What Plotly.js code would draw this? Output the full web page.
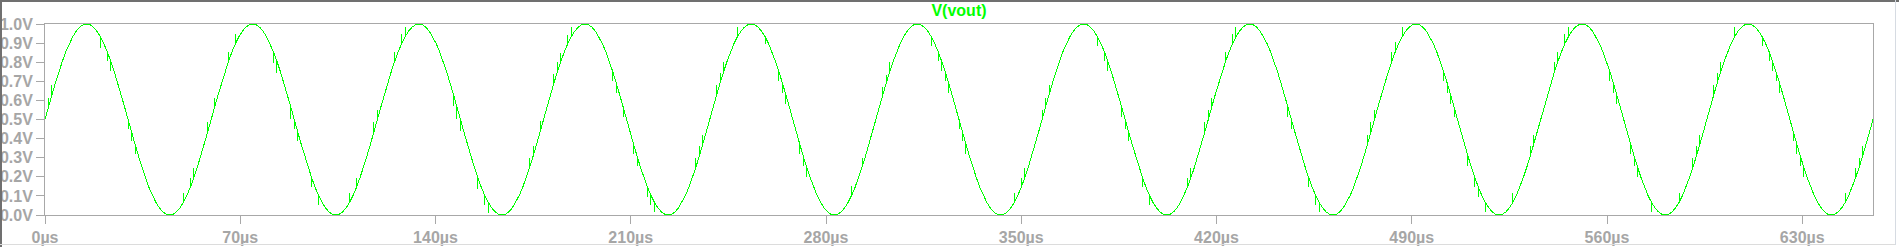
<!DOCTYPE html>
<html>
<head>
<meta charset="utf-8">
<script src="https://cdn.plot.ly/plotly-3.0.1.min.js"></script>
<style>
  html, body { margin:0; padding:0; background:#ffffff; }
  #wrap { position:relative; width:1899px; height:247px; overflow:hidden; }
  #chart { position:absolute; left:0; top:0; width:1899px; height:247px; }
  .fr { position:absolute; pointer-events:none; }
  #chart .js-line { shape-rendering: crispEdges; }
</style>
</head>
<body>
<div id="wrap">
  <div id="chart"></div>
  <div class="fr" style="left:0;top:0;width:1899px;height:2px;background:#707070;"></div>
  <div class="fr" style="left:0;top:0;width:2px;height:247px;background:#707070;"></div>
  <div class="fr" style="left:0;top:244px;width:1896px;height:1px;background:#dcdcdc;"></div>
  <div class="fr" style="left:1895px;top:0;width:1px;height:245px;background:#d6dbe2;"></div>
</div>
<script>
// ---- data ----
const traceName = 'V(vout)';
const timeSpanUs = 655.36;      // x range of the plot (µs)
const cycleCount = 11;          // full sine periods in the window
// one period of the output level (V), 48 equal steps
const cycleLevels = [0.500,0.565,0.629,0.691,0.750,0.804,0.854,0.897,0.933,0.962,0.983,0.996,
                     1.000,0.996,0.983,0.962,0.933,0.897,0.854,0.804,0.750,0.691,0.629,0.565,
                     0.500,0.435,0.371,0.309,0.250,0.196,0.146,0.103,0.067,0.038,0.017,0.004,
                     0.000,0.004,0.017,0.038,0.067,0.103,0.146,0.196,0.250,0.309,0.371,0.435];
// glitch spikes: time (µs) and spike height (V, signed)
const glitchTimeUs = [
  1.2,2.8, 19.7,22.1,23.6,29.9,31.1,32.5, 49.4,51.7,53.2,58.5,61.2,66.1,67.9,
  81.6,82.8,88.4,89.4,90.8,96.1,97.6, 109.8,112.3,118.1,118.9,125.5,127.5,129.4,
  146.7,147.8,149.0,155.5,157.3,159.3, 174.1,175.3,177.7,182.6,184.0,185.2,186.9,189.0,
  204.0,205.0,207.6,211.3,212.5,215.5,216.6,218.9, 233.6,235.2,236.0,240.8,242.3,243.8,248.5,
  258.2,263.5,264.7,266.0,270.9,272.1,273.3, 289.8,293.1,300.5,301.9,303.3,
  317.7,319.9,321.3,323.0,324.2,328.0,329.2,330.4, 347.5,349.8,351.3,357.7,358.9,360.3,
  377.4,379.4,380.8,386.2,387.6,388.9,394.0,395.5, 409.3,410.8,416.2,417.3,418.6,423.6,425.4,427.2,
  445.9,446.8,453.1,455.0,457.3, 474.4,475.6,476.8,483.0,484.6,486.9,
  501.6,502.7,504.3,505.5,510.5,512.9,514.4,516.8, 526.0,532.6,534.2,541.0,542.9,544.3,546.5,
  561.3,562.6,564.0,568.5,569.9,571.2,576.2, 585.9,591.3,592.5,593.6,598.4,599.5,601.1,606.1,
  615.8,617.8,619.4,621.0,622.3,626.8,628.3,629.4,631.0, 645.5,648.9,650.7,651.9];
const glitchDeltaV = [
  0.05,0.05, -0.06,-0.05,-0.05,-0.05,-0.05,-0.05, 0.05,0.05,0.05,0.05,0.05,0.05,0.05,
  -0.06,-0.06,-0.06,-0.05,-0.05,-0.05,-0.05, 0.05,0.05,0.05,0.05,0.05,0.05,0.05,
  -0.06,-0.06,-0.06,-0.06,-0.05,-0.055, 0.05,0.05,0.055,0.045,0.05,0.045,0.045,0.05,
  -0.05,-0.05,-0.05,-0.05,-0.05,-0.05,-0.05,-0.05, 0.05,0.05,0.05,0.05,0.05,0.05,0.05,
  -0.04,-0.05,-0.05,-0.05,-0.05,-0.05,-0.05, 0.05,0.05,0.04,0.04,0.05,
  -0.05,-0.05,-0.05,-0.05,-0.05,-0.05,-0.05,-0.05, 0.05,0.05,0.05,0.05,0.05,0.05,
  -0.05,-0.05,-0.05,-0.05,-0.05,-0.05,-0.05,-0.05, 0.05,0.05,0.05,0.05,0.05,0.05,0.05,0.05,
  -0.05,-0.05,-0.05,-0.05,-0.05, 0.05,0.05,0.05,0.05,0.05,0.05,
  -0.05,-0.05,-0.05,-0.05,-0.05,-0.05,-0.05,-0.05, 0.05,0.05,0.05,0.05,0.05,0.05,0.05,
  -0.05,-0.05,-0.05,-0.05,-0.05,-0.05,-0.05, 0.05,0.05,0.05,0.05,0.05,0.05,0.05,0.05,
  -0.05,-0.05,-0.05,-0.05,-0.05,-0.05,-0.05,-0.05,-0.05, 0.05,0.05,0.05,0.05];
const xTickValues = [0,70,140,210,280,350,420,490,560,630];
const xTickLabels = ['0µs','70µs','140µs','210µs','280µs','350µs','420µs','490µs','560µs','630µs'];
const yTickValues = [0,0.1,0.2,0.3,0.4,0.5,0.6,0.7,0.8,0.9,1.0];
const yTickLabels = ['0.0V','0.1V','0.2V','0.3V','0.4V','0.5V','0.6V','0.7V','0.8V','0.9V','1.0V'];

// ---- build the series (repeat the read period, add spikes at nearest sample) ----
const stepsPerCycle = cycleLevels.length;
const nSteps = stepsPerCycle * cycleCount;
const dt = timeSpanUs / nSteps;
const spikesAt = {};
glitchTimeUs.forEach((t, j) => {
  const k = Math.round(t / dt);
  (spikesAt[k] = spikesAt[k] || []).push(glitchDeltaV[j]);
});
const xs = [], ys = [];
for (let i = 0; i <= nSteps; i++) {
  const t = i * dt;
  const v = cycleLevels[i % stepsPerCycle];
  xs.push(t); ys.push(v);
  if (spikesAt[i]) {
    spikesAt[i].forEach(d => { xs.push(t, t); ys.push(v + d, v); });
  }
}

const FONT = '"Liberation Sans", Arial, Helvetica, sans-serif';
const GRAY = '#a6a6a6';
const AX = '#a8a8a8';

const data = [{
  type: 'scatter', mode: 'lines', name: traceName,
  x: xs, y: ys,
  line: { color: '#00ff00', width: 1 },
  hoverinfo: 'skip'
}];

const layout = {
  width: 1899, height: 247,
  margin: { l: 45, r: 26, t: 24, b: 32, pad: 0 },
  paper_bgcolor: '#ffffff', plot_bgcolor: '#ffffff',
  showlegend: false,
  title: {
    text: traceName,
    font: { family: FONT, size: 16, color: '#00ff00', weight: 'bold' },
    x: 0.5, xref: 'paper', xanchor: 'center',
    y: 1 - 10.5 / 247, yref: 'container', yanchor: 'middle'
  },
  xaxis: {
    range: [0, timeSpanUs], tickmode: 'array',
    tickvals: xTickValues, ticktext: xTickLabels,
    ticks: 'outside', ticklen: 8, tickwidth: 1, tickcolor: AX,
    showline: true, linecolor: AX, linewidth: 1, mirror: true,
    showgrid: false, zeroline: false,
    tickfont: { family: FONT, size: 16, color: GRAY, weight: 'bold' }
  },
  yaxis: {
    range: [0, 1], tickmode: 'array',
    tickvals: yTickValues, ticktext: yTickLabels,
    ticks: 'outside', ticklen: 8, tickwidth: 1, tickcolor: AX,
    showline: true, linecolor: AX, linewidth: 1, mirror: true,
    showgrid: false, zeroline: false,
    tickfont: { family: FONT, size: 16, color: GRAY, weight: 'bold' }
  }
};

Plotly.newPlot('chart', data, layout, { displayModeBar: false, staticPlot: true });
</script>
</body>
</html>
